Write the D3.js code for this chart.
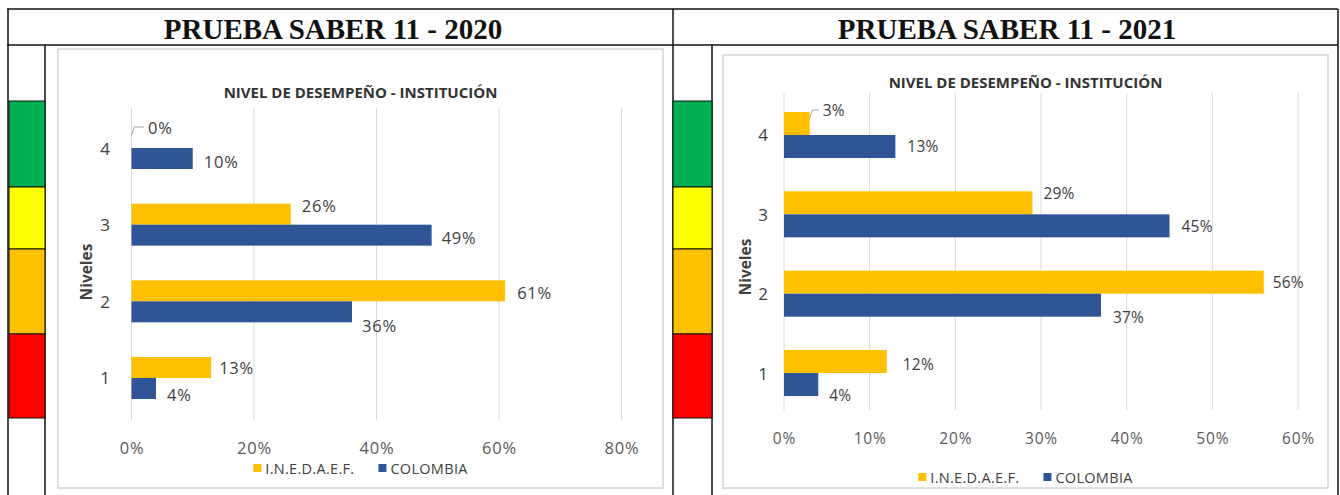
<!DOCTYPE html>
<html><head><meta charset="utf-8">
<script src="https://cdn.jsdelivr.net/npm/d3@7"></script>
<style>body{margin:0;background:#fff}svg{display:block}</style>
</head><body><svg id="c" width="1340" height="495"></svg>
<script>
// ---------- data ----------
const levels = ["1", "2", "3", "4"];
const seriesNames = ["I.N.E.D.A.E.F.", "COLOMBIA"];
const inst2020 = [13, 61, 26, 0];
const colombia2020 = [4, 36, 49, 10];
const inst2021 = [12, 56, 29, 3];
const colombia2021 = [4, 37, 45, 13];
const ticks2020 = [0, 20, 40, 60, 80];
const ticks2021 = [0, 10, 20, 30, 40, 50, 60];
const panelTitles = ["PRUEBA SABER 11 - 2020", "PRUEBA SABER 11 - 2021"];
const chartTitle = "NIVEL DE DESEMPEÑO - INSTITUCIÓN";
const axisTitle = "Niveles";
const stripLevels = ["4", "3", "2", "1"];

// ---------- styles / layout ----------
const stripColors = ["#00b050", "#ffff00", "#ffc000", "#ff0000"];
const stripBounds = [101, 187, 249, 334, 418];
const seriesColors = ["#ffc000", "#2f5597"];
// label offsets [dx from bar end, dy from bar centre], per level 1..4
const labelOff2020 = [
  [[8, 0], [12, 2], [11, -9], [16.5, -10.5]],
  [[11, 6], [10, 14], [10, 2], [11, 3]]
];
const labelOff2021 = [
  [[16, 2.5], [9, 0], [11, -9.5], [13, -13.5]],
  [[11, 10.5], [12, 11.5], [12, 0], [12, 0]]
];

const svg = d3.select("#c");
const FONT = "'Open Sans', 'Noto Sans', sans-serif";

const panels = [
  { title: panelTitles[0], titleX: 333, inst: inst2020, col: colombia2020, ticks: ticks2020, xMax: 80,
    box: [58, 49, 605, 439], xr: [131.5, 621.5], band: [109.7, 416.3], pad: 0.452, grid: [108, 420],
    chartTitleY: 92, tickY: 447, legendY: 468, yTickX: 105, axTitleX: 86, axTitleY: 272,
    strip: [9, 36], offs: labelOff2020, lblSize: 16.5, lblSpacing: 0.8, tickSize: 16.5 },
  { title: panelTitles[1], titleX: 1007, inst: inst2021, col: colombia2021, ticks: ticks2021, xMax: 60,
    box: [723, 55, 605, 433], xr: [784, 1298], band: [95.3, 412.7], pad: 0.42, grid: [93, 410],
    chartTitleY: 82, tickY: 438, legendY: 477, yTickX: 763, axTitleX: 745, axTitleY: 267,
    strip: [673, 39], offs: labelOff2021, lblSize: 15.5, lblSpacing: 0.2, tickSize: 15.5 }
];

// ---------- frame ----------
const frame = svg.append("g").attr("stroke", "#111").attr("stroke-width", 1.5);
[[7, 9, 1338, 9], [7, 45, 1338, 45], [8, 9, 8, 495], [45, 45, 45, 495],
 [673, 9, 673, 495], [712, 45, 712, 495], [1338, 9, 1338, 495]]
  .forEach(l => frame.append("line").attr("x1", l[0]).attr("y1", l[1]).attr("x2", l[2]).attr("y2", l[3]));

panels.forEach(p => {
  const g = svg.append("g");

  // header title
  svg.append("text").attr("x", p.titleX).attr("y", 39).attr("text-anchor", "middle")
    .attr("font-family", "'Liberation Serif', 'Times New Roman', serif").attr("font-weight", "bold")
    .attr("font-size", 29).attr("fill", "#111").text(p.title);

  // colour strip
  stripLevels.forEach((lv, i) => {
    g.append("rect").attr("x", p.strip[0]).attr("y", stripBounds[i])
      .attr("width", p.strip[1]).attr("height", stripBounds[i + 1] - stripBounds[i])
      .attr("fill", stripColors[i]).attr("stroke", "#111").attr("stroke-width", 1);
  });

  // chart box
  g.append("rect").attr("x", p.box[0]).attr("y", p.box[1]).attr("width", p.box[2]).attr("height", p.box[3])
    .attr("fill", "#fff").attr("stroke", "#d4d4d4").attr("stroke-width", 1.5);

  const x = d3.scaleLinear().domain([0, p.xMax]).range(p.xr);
  const y = d3.scaleBand().domain(["4", "3", "2", "1"]).range(p.band)
    .paddingInner(p.pad).paddingOuter(p.pad / 2);
  const ys = d3.scaleBand().domain(seriesNames).range([0, y.bandwidth()]);

  // gridlines
  g.append("g").selectAll("line").data(p.ticks).join("line")
    .attr("x1", d => x(d)).attr("x2", d => x(d)).attr("y1", p.grid[0]).attr("y2", p.grid[1])
    .attr("stroke", "#d9d9d9").attr("stroke-width", 1);

  // chart title
  g.append("text").attr("x", p.box[0] + p.box[2] / 2).attr("y", p.chartTitleY)
    .attr("text-anchor", "middle").attr("dominant-baseline", "central")
    .attr("font-family", FONT).attr("font-weight", "bold").attr("font-size", 15)
    .attr("fill", "#333").text(chartTitle);

  // bars
  const series = [p.inst, p.col];
  series.forEach((vals, si) => {
    g.append("g").selectAll("rect").data(levels.map((lv, i) => ({ lv, v: vals[i], i }))).join("rect")
      .attr("x", x(0)).attr("y", d => y(d.lv) + ys(seriesNames[si]))
      .attr("width", d => x(d.v) - x(0)).attr("height", ys.bandwidth())
      .attr("fill", seriesColors[si]);
  });

  // data labels
  series.forEach((vals, si) => {
    levels.forEach((lv, i) => {
      const v = vals[i];
      const off = p.offs[si][i];
      const xe = x(v);
      const yc = y(lv) + ys(seriesNames[si]) + ys.bandwidth() / 2;
      const lx = xe + off[0], ly = yc + off[1];
      g.append("text").attr("x", lx).attr("y", ly).attr("dominant-baseline", "central")
        .attr("font-family", FONT).attr("font-size", p.lblSize).attr("letter-spacing", p.lblSpacing)
        .attr("fill", "#404040").text(v + "%");
      if (off[1] < -10) {
        g.append("path").attr("d", `M${xe},${ly + 8} L${xe + 3},${ly} L${lx - 4},${ly}`)
          .attr("fill", "none").attr("stroke", "#a6a6a6").attr("stroke-width", 1);
      }
    });
  });

  // x axis tick labels
  const xa = g.append("g").attr("transform", `translate(0,${p.tickY})`)
    .call(d3.axisBottom(x).tickValues(p.ticks).tickFormat(d => d + "%").tickSize(0).tickPadding(0));
  xa.select(".domain").remove();
  xa.selectAll("text").attr("dy", null).attr("dominant-baseline", "central")
    .attr("font-family", FONT).attr("font-size", p.tickSize).attr("letter-spacing", 0.8).attr("fill", "#595959");

  // y axis tick labels
  const ya = g.append("g").attr("transform", `translate(${p.yTickX},0)`)
    .call(d3.axisLeft(y).tickSize(0).tickPadding(0));
  ya.select(".domain").remove();
  ya.selectAll("text").attr("dy", null).attr("dominant-baseline", "central").attr("text-anchor", "middle")
    .attr("font-family", FONT).attr("font-size", 17).attr("fill", "#404040");

  // axis title
  g.append("text").attr("transform", `translate(${p.axTitleX},${p.axTitleY}) rotate(-90)`)
    .attr("text-anchor", "middle").attr("dominant-baseline", "central")
    .attr("font-family", FONT).attr("font-weight", "bold").attr("font-size", 15.5)
    .attr("fill", "#404040").text(axisTitle);

  // legend
  const lg = g.append("g");
  const items = seriesNames.map((n, i) => {
    const it = lg.append("g");
    it.append("rect").attr("x", 0).attr("y", p.legendY - 4).attr("width", 8).attr("height", 8).attr("fill", seriesColors[i]);
    const t = it.append("text").attr("x", 12).attr("y", p.legendY).attr("dominant-baseline", "central")
      .attr("font-family", FONT).attr("font-size", 14.5).attr("letter-spacing", 0.3).attr("fill", "#404040").text(n);
    return { it, w: 12 + t.node().getComputedTextLength() };
  });
  const gap = 24;
  const total = items[0].w + gap + items[1].w;
  let cx = p.box[0] + p.box[2] / 2 - total / 2;
  items.forEach(o => { o.it.attr("transform", `translate(${cx},0)`); cx += o.w + gap; });
});
</script></body></html>
